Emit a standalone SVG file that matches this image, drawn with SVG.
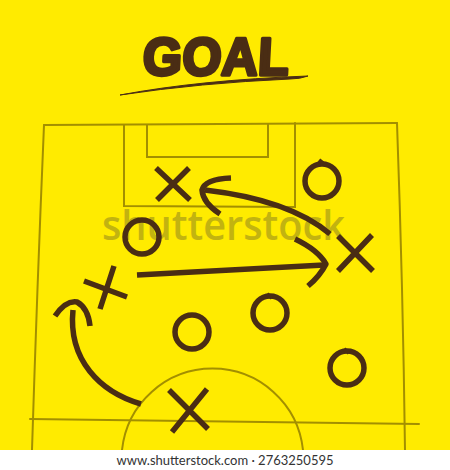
<svg xmlns="http://www.w3.org/2000/svg" width="450" height="470" viewBox="0 0 450 470">
  <defs>
    <style>
      .field { fill: none; stroke: #A38F00; stroke-width: 2; stroke-linecap: round; }
      .ink { fill: none; stroke: #4A2D14; stroke-width: 5.5; stroke-linecap: butt; stroke-linejoin: round; }
      .tick { fill: none; stroke: #4A2D14; stroke-width: 4; stroke-linecap: butt; }
      .title { font-family: "Liberation Sans", Arial, sans-serif; font-weight: bold; font-size: 53px; fill: #4A2D14; stroke: #4A2D14; stroke-width: 3.5; stroke-linejoin: round; }
      .wm { font-family: "Open Sans", "Liberation Sans", sans-serif; font-weight: 600; font-size: 42px; fill: #B3A614; opacity: 0.8; }
      .foot { font-family: Lato, "Open Sans", "Liberation Sans", sans-serif; font-size: 13px; fill: #333333; }
    </style>
  </defs>
  <rect x="0" y="0" width="450" height="470" fill="#FFEB00"/>

  <!-- field -->
  <g id="field">
    <path class="field" d="M44,125 L397,123"/>
    <path class="field" d="M44,125 Q37,290 32,450"/>
    <path class="field" d="M397,123 Q403,290 405,450"/>
    <path class="field" d="M30,419 L419,424"/>
    <path class="field" d="M124,125 L124,206 L295,207 L295,123"/>
    <path class="field" d="M147,125 L147,157 L268,157 L268,124"/>
    <path class="field" d="M122,450 A91,91 0 0 1 303,450"/>
  </g>

  <!-- title -->
  <g id="title">
    <text class="title" x="142" y="75" textLength="146" lengthAdjust="spacingAndGlyphs" transform="skewX(-3) translate(4,0)">GOAL</text>
    <path d="M120,95 Q200,80 308,76 Q300,79 290,79 Q200,83 120,95 Z" fill="#4A2D14" stroke="#4A2D14" stroke-width="1"/>
  </g>

  <!-- watermark -->
  <text class="wm" x="102" y="240" textLength="243" lengthAdjust="spacingAndGlyphs">shutterstock</text>

  <!-- players -->
  <g id="x1"><path class="ink" d="M156,168 L190,200 M189,168 L157,200"/></g>
  <g id="x2"><path class="ink" d="M338,236 L373,271 M372,235 L338,271"/></g>
  <g id="x3"><path class="ink" d="M84,281 L127,297 M114,266 L100,309"/></g>
  <g id="x4"><path class="ink" d="M169,390 L208,429 M207,389 L172,432"/></g>

  <g id="o1"><circle class="ink" cx="322" cy="181" r="17"/><path class="tick" d="M319,160 L324,164"/></g>
  <g id="o2"><circle class="ink" cx="142" cy="237" r="17"/></g>
  <g id="o3"><circle class="ink" cx="192" cy="332" r="17"/></g>
  <g id="o4"><circle class="ink" cx="270" cy="313" r="17"/><path class="tick" d="M267,294 L272,298"/></g>
  <g id="o5"><circle class="ink" cx="347" cy="368" r="17"/><path class="tick" d="M344,349 L349,353"/></g>

  <!-- connectors -->
  <g id="connectors">
    <path class="ink" d="M330,234 Q290,200 205,190"/>
    <path class="ink" d="M231,178 Q205,179 202,190 Q203,203 220,214"/>
    <path class="ink" d="M137,275 L324,265"/>
    <path class="ink" d="M295,239 Q318,250 326,264 Q320,276 308,286"/>
    <path class="ink" d="M141,404 C100,392 68,360 73,310"/>
    <path class="ink" d="M55,316 Q66,300 77,302 Q88,308 90,326"/>
  </g>

  <!-- footer -->
  <rect x="0" y="450" width="450" height="20" fill="#FFFFFF"/>
  <text class="foot" x="225" y="465" text-anchor="middle">www.shutterstock.com · 2763250595</text>
</svg>
